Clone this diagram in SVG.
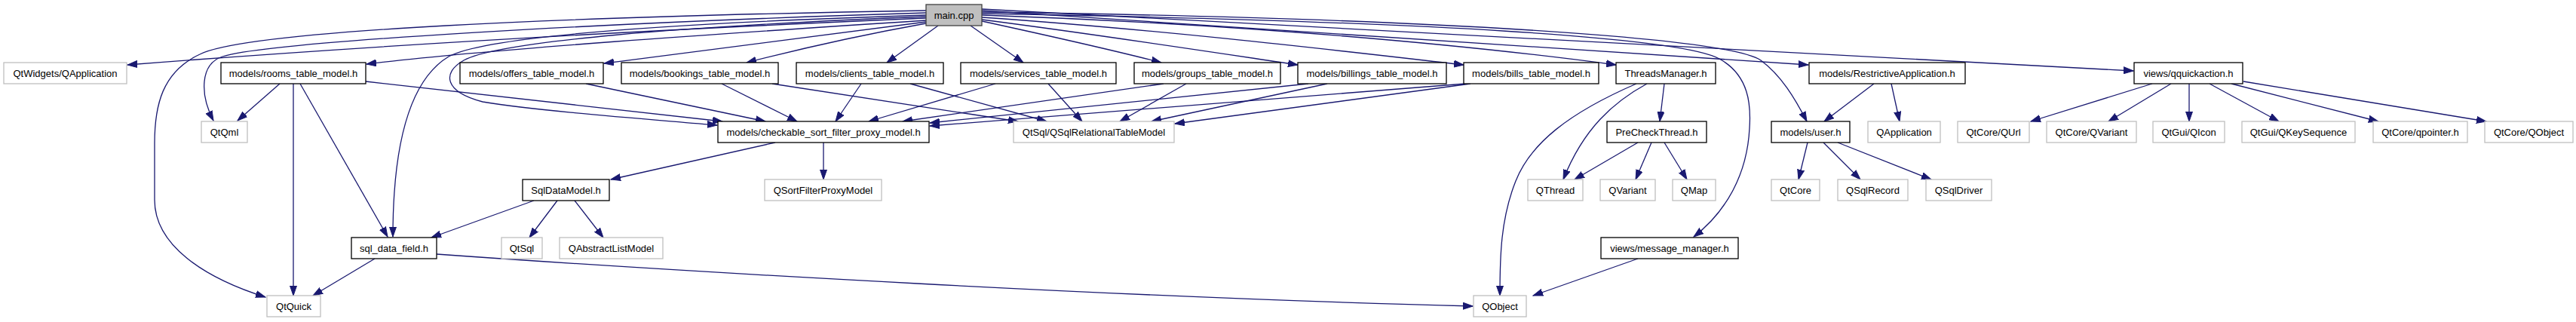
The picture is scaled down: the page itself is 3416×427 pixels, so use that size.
<svg xmlns="http://www.w3.org/2000/svg" width="3416" height="427" viewBox="0 0 3416 427">
<style>
.n rect{fill:#fff;stroke:#000;stroke-width:1.3}
.x rect{fill:#fff;stroke:#bfbfbf;stroke-width:1.3}
.r rect{fill:#bfbfbf;stroke:#404040;stroke-width:1.3}
text{font-family:"Liberation Sans",Arial,Helvetica,sans-serif;font-size:13px;text-anchor:middle;fill:#000}
#edges path{fill:none;stroke:#191970;stroke-width:1.3;marker-end:url(#a)}
</style>
<defs>
<marker id="a" markerUnits="userSpaceOnUse" markerWidth="14" markerHeight="10" refX="13" refY="5" orient="auto">
<path d="M0,0.5 L13,5 L0,9.5 z" fill="#191970" stroke="#191970" stroke-width="1"/>
</marker>
</defs>
<rect width="3416" height="427" fill="#fff"/>
<g id="edges">
<path d="M1228,24 C900,38 500,60 169,86"/>
<path d="M1228,27 C950,45 650,65 486,85"/>
<path d="M1228,17 C800,30 360,55 295,75 C265,85 265,125 283,160"/>
<path d="M1228,14 C750,22 330,40 265,72 C215,95 205,140 205,190 L205,265 C205,325 270,368 352,394"/>
<path d="M1228,20 C850,32 640,50 595,75 C540,108 521,200 521,314"/>
<path d="M1228,22 C900,35 660,55 615,80 C585,97 590,122 640,135 C720,148 860,158 951,166"/>
<path d="M1228,29 C1100,45 950,65 801,84"/>
<path d="M1228,31 C1150,45 1060,65 990,83"/>
<path d="M1244,34 L1176,83"/>
<path d="M1287,34 L1357,83"/>
<path d="M1302,28 C1380,45 1470,65 1540,83"/>
<path d="M1302,26 C1450,45 1600,68 1721,86"/>
<path d="M1302,23 C1550,40 1800,70 1941,86"/>
<path d="M1302,20 C1650,32 1950,60 2143,86"/>
<path d="M1302,18 C1900,28 2230,50 2280,78 C2320,100 2322,140 2320,170 C2317,230 2290,280 2246,314"/>
<path d="M1302,16 C1900,24 2290,50 2335,80 C2362,100 2380,130 2396,161"/>
<path d="M1302,14 L2398,86"/>
<path d="M1302,12 L2829,94"/>
<path d="M371,111 L315,160"/>
<path d="M389,111 L389,392"/>
<path d="M398,111 L514,314"/>
<path d="M485,108 L958,161"/>
<path d="M777,111 L1015,161"/>
<path d="M957,111 L1057,161"/>
<path d="M1024,111 L1350,161"/>
<path d="M1142,111 L1108,161"/>
<path d="M1207,111 L1388,161"/>
<path d="M1320,111 L1152,161"/>
<path d="M1390,111 L1435,161"/>
<path d="M1543,111 L1197,161"/>
<path d="M1573,111 L1485,161"/>
<path d="M1735,111 L1233,163"/>
<path d="M1760,111 L1527,161"/>
<path d="M1943,111 L1233,167"/>
<path d="M1950,111 L1558,164"/>
<path d="M1028,189 L810,238"/>
<path d="M1092,189 L1092,238"/>
<path d="M739,266 L702,315"/>
<path d="M762,266 L800,315"/>
<path d="M708,266 L572,315"/>
<path d="M497,343 L415,392"/>
<path d="M579,337 C900,360 1500,395 1953,406"/>
<path d="M2170,111 C2080,150 2030,190 2010,240 C1990,290 1989,340 1989,392"/>
<path d="M2184,111 C2140,135 2100,170 2073,238"/>
<path d="M2207,111 L2201,161"/>
<path d="M2172,189 L2088,238"/>
<path d="M2190,189 L2169,238"/>
<path d="M2207,189 L2237,238"/>
<path d="M2172,343 L2033,392"/>
<path d="M2485,111 L2419,161"/>
<path d="M2508,111 L2519,161"/>
<path d="M2397,189 L2385,238"/>
<path d="M2418,189 L2467,238"/>
<path d="M2437,189 L2561,238"/>
<path d="M2854,111 L2693,161"/>
<path d="M2879,111 L2796,161"/>
<path d="M2903,111 L2903,161"/>
<path d="M2930,111 L3022,161"/>
<path d="M2959,111 L3154,161"/>
<path d="M2975,108 L3297,161"/>
</g>
<g id="main_cpp" class="r"><rect x="1228" y="6" width="74" height="28"/><text x="1265" y="24.5">main.cpp</text></g>
<g id="qtwidgets_qapplication" class="x"><rect x="5" y="83" width="163" height="28"/><text x="86.5" y="101.5">QtWidgets/QApplication</text></g>
<g id="rooms_table_model" class="n"><rect x="293" y="83" width="192" height="28"/><text x="389" y="101.5">models/rooms_table_model.h</text></g>
<g id="offers_table_model" class="n"><rect x="610" y="83" width="190" height="28"/><text x="705" y="101.5">models/offers_table_model.h</text></g>
<g id="bookings_table_model" class="n"><rect x="824" y="83" width="208" height="28"/><text x="928" y="101.5">models/bookings_table_model.h</text></g>
<g id="clients_table_model" class="n"><rect x="1056" y="83" width="195" height="28"/><text x="1153.5" y="101.5">models/clients_table_model.h</text></g>
<g id="services_table_model" class="n"><rect x="1274" y="83" width="206" height="28"/><text x="1377" y="101.5">models/services_table_model.h</text></g>
<g id="groups_table_model" class="n"><rect x="1504" y="83" width="194" height="28"/><text x="1601" y="101.5">models/groups_table_model.h</text></g>
<g id="billings_table_model" class="n"><rect x="1721" y="83" width="197" height="28"/><text x="1819.5" y="101.5">models/billings_table_model.h</text></g>
<g id="bills_table_model" class="n"><rect x="1941" y="83" width="179" height="28"/><text x="2030.5" y="101.5">models/bills_table_model.h</text></g>
<g id="threads_manager" class="n"><rect x="2143" y="83" width="132" height="28"/><text x="2209" y="101.5">ThreadsManager.h</text></g>
<g id="restrictive_application" class="n"><rect x="2399" y="83" width="207" height="28"/><text x="2502.5" y="101.5">models/RestrictiveApplication.h</text></g>
<g id="qquickaction" class="n"><rect x="2830" y="83" width="144" height="28"/><text x="2902" y="101.5">views/qquickaction.h</text></g>
<g id="qtqml" class="x"><rect x="267" y="161" width="61" height="28"/><text x="297.5" y="179.5">QtQml</text></g>
<g id="checkable_sort_filter_proxy_model" class="n"><rect x="952" y="161" width="280" height="28"/><text x="1092" y="179.5">models/checkable_sort_filter_proxy_model.h</text></g>
<g id="qsqlrelationaltablemodel" class="x"><rect x="1344" y="161" width="213" height="28"/><text x="1450.5" y="179.5">QtSql/QSqlRelationalTableModel</text></g>
<g id="precheckthread" class="n"><rect x="2131" y="161" width="132" height="28"/><text x="2197" y="179.5">PreCheckThread.h</text></g>
<g id="user_h" class="n"><rect x="2349" y="161" width="104" height="28"/><text x="2401" y="179.5">models/user.h</text></g>
<g id="qapplication" class="x"><rect x="2477" y="161" width="96" height="28"/><text x="2525" y="179.5">QApplication</text></g>
<g id="qtcore_qurl" class="x"><rect x="2596" y="161" width="95" height="28"/><text x="2643.5" y="179.5">QtCore/QUrl</text></g>
<g id="qtcore_qvariant" class="x"><rect x="2714" y="161" width="119" height="28"/><text x="2773.5" y="179.5">QtCore/QVariant</text></g>
<g id="qtgui_qicon" class="x"><rect x="2855" y="161" width="95" height="28"/><text x="2902.5" y="179.5">QtGui/QIcon</text></g>
<g id="qtgui_qkeysequence" class="x"><rect x="2973" y="161" width="150" height="28"/><text x="3048" y="179.5">QtGui/QKeySequence</text></g>
<g id="qtcore_qpointer" class="x"><rect x="3147" y="161" width="125" height="28"/><text x="3209.5" y="179.5">QtCore/qpointer.h</text></g>
<g id="qtcore_qobject" class="x"><rect x="3295" y="161" width="117" height="28"/><text x="3353.5" y="179.5">QtCore/QObject</text></g>
<g id="sqldatamodel" class="n"><rect x="693" y="238" width="115" height="28"/><text x="750.5" y="256.5">SqlDataModel.h</text></g>
<g id="qsortfilterproxymodel" class="x"><rect x="1014" y="238" width="155" height="28"/><text x="1091.5" y="256.5">QSortFilterProxyModel</text></g>
<g id="qthread" class="x"><rect x="2026" y="238" width="73" height="28"/><text x="2062.5" y="256.5">QThread</text></g>
<g id="qvariant" class="x"><rect x="2122" y="238" width="73" height="28"/><text x="2158.5" y="256.5">QVariant</text></g>
<g id="qmap" class="x"><rect x="2218" y="238" width="57" height="28"/><text x="2246.5" y="256.5">QMap</text></g>
<g id="qtcore" class="x"><rect x="2349" y="238" width="64" height="28"/><text x="2381" y="256.5">QtCore</text></g>
<g id="qsqlrecord" class="x"><rect x="2437" y="238" width="93" height="28"/><text x="2483.5" y="256.5">QSqlRecord</text></g>
<g id="qsqldriver" class="x"><rect x="2554" y="238" width="87" height="28"/><text x="2597.5" y="256.5">QSqlDriver</text></g>
<g id="sql_data_field" class="n"><rect x="466" y="315" width="113" height="28"/><text x="522.5" y="333.5">sql_data_field.h</text></g>
<g id="qtsql" class="x"><rect x="665" y="315" width="54" height="28"/><text x="692" y="333.5">QtSql</text></g>
<g id="qabstractlistmodel" class="x"><rect x="742" y="315" width="137" height="28"/><text x="810.5" y="333.5">QAbstractListModel</text></g>
<g id="message_manager" class="n"><rect x="2123" y="315" width="182" height="28"/><text x="2214" y="333.5">views/message_manager.h</text></g>
<g id="qtquick" class="x"><rect x="354" y="392" width="71" height="28"/><text x="389.5" y="410.5">QtQuick</text></g>
<g id="qobject" class="x"><rect x="1954" y="392" width="70" height="28"/><text x="1989" y="410.5">QObject</text></g>
</svg>
